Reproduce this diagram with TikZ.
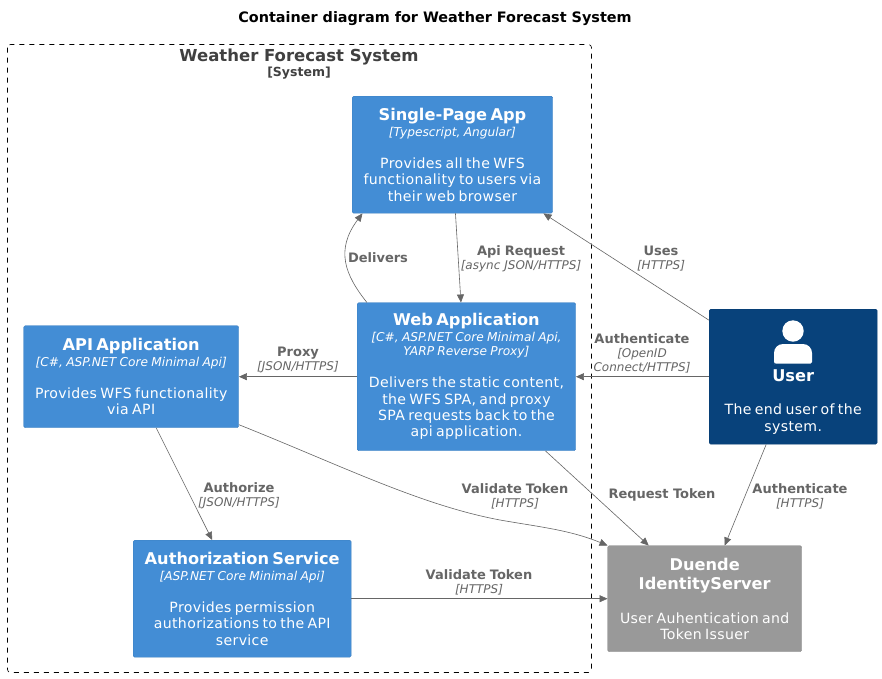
\documentclass[tikz,border=0pt]{standalone}
\usepackage{fontspec}
\setmainfont{DejaVu Sans}
\usetikzlibrary{arrows.meta,positioning}
\definecolor{contblue}{HTML}{438DD5}
\definecolor{persblue}{HTML}{08427B}
\definecolor{extgray}{HTML}{999999}
\definecolor{reltext}{HTML}{666666}
\tikzset{
  boxnode/.style={draw=#1!90!black,line width=0.4pt,fill=#1,rounded corners=1.5pt,text=white,align=center,inner sep=0pt,anchor=north west},
  rel/.style={-{Triangle[length=8pt,width=7pt]},draw=reltext,line width=0.6pt},
  rellabel/.style={text=reltext,align=center,inner sep=0pt,text width=150pt,font=\fontsize{12}{14}\selectfont},
}
\newcommand{\bodyfont}{\fontsize{14.1}{16.3}\selectfont\addfontfeatures{LetterSpace=2.5}}
\newcommand{\headfont}{\bfseries\fontsize{16.2}{19}\selectfont}
\newcommand{\boxtxt}[3]{{\headfont #1\par}\vspace{2pt}{\itshape\fontsize{12.2}{14}\selectfont #2\par}\vspace{15.7pt}{\bodyfont #3\par}}
\newcommand{\reltxt}[2]{{\bfseries\fontsize{13}{14}\selectfont #1\par}{\itshape #2\par}}
\begin{document}
\begin{tikzpicture}[x=1pt,y=-1pt,line join=round]
  \useasboundingbox (0,0) rectangle (882,678);
  \fill[white] (0,0) rectangle (882,678);

  \node[font=\bfseries\fontsize{14.4}{17}\selectfont,inner sep=0pt] (title) at (435,19) {Container diagram for Weather Forecast System};

  \draw[dash pattern=on 5pt off 5pt,rounded corners=3pt,line width=0.6pt] (7.5,44.5) rectangle (591.5,672.5);
  \node[font=\bfseries\fontsize{16.5}{19}\selectfont,text=black!75,inner sep=0pt] (sysname) at (299,57) {Weather Forecast System};
  \node[font=\bfseries\fontsize{12.5}{15}\selectfont,text=black!75,inner sep=0pt] (systype) at (299,73) {[System]};

  % containers
  \node[boxnode=contblue,text width=200.5pt,minimum height=117pt] (spa) at (352,96) {\boxtxt{Single-Page App}{[Typescript, Angular]}{Provides all the WFS\\functionality to users via\\their web browser}};
  \node[boxnode=contblue,text width=218.5pt,minimum height=148pt] (web) at (357,302.5) {\boxtxt{Web Application}{[C\#, ASP.NET Core Minimal Api,\\YARP Reverse Proxy]}{Delivers the static content,\\the WFS SPA, and proxy\\SPA requests back to the\\api application.}};
  \node[boxnode=contblue,text width=215pt,minimum height=102pt] (api) at (23.5,325.5) {\boxtxt{API Application}{[C\#, ASP.NET Core Minimal Api]}{Provides WFS functionality\\via API}};
  \node[boxnode=contblue,text width=218pt,minimum height=117pt] (auth) at (133,540) {\boxtxt{Authorization Service}{[ASP.NET Core Minimal Api]}{Provides permission\\authorizations to the API\\service}};
  \node[boxnode=persblue,text width=168pt,minimum height=135pt] (user) at (709,309) {\rule{0pt}{43pt}\par{\headfont User\par}\vspace{17pt}{\bodyfont The end user of the\\system.\par}};
  \fill[white] (793,331) circle (10.7pt);
  \fill[white] (774,363) [rounded corners=1.5pt] -- (774,356) [rounded corners=9pt] -- (774,344) -- (812,344) [rounded corners=1.5pt] -- (812,363.5) -- (774,363.5) -- cycle;
  \node[boxnode=extgray,text width=194pt,minimum height=106pt] (ids) at (607.5,545.5) {{\headfont Duende\\IdentityServer\par}\vspace{17.7pt}{\bodyfont User Auhentication and\\Token Issuer\par}};

  % relations
  \draw[rel] ([yshift=56.5pt]user.west) -- ([xshift=91pt]spa.south);
  \draw[rel] ([xshift=3pt]spa.south) -- ([xshift=-5.5pt]web.north);
  \draw[rel] ([xshift=-99.5pt]web.north) .. controls (345,275) and (335,250) .. ([xshift=-90pt]spa.south);
  \draw[rel] (user.west) -- (web.east);
  \draw[rel] (web.west) -- (api.east);
  \draw[rel] ([xshift=25pt]api.south) -- ([xshift=-30pt]auth.north);
  \draw[rel] ([yshift=-48pt]api.east) .. controls (340,465) and (420,505) .. (500,520) .. controls (540,527) and (570,530) .. (ids.north west);
  \draw[rel] ([xshift=79pt]web.south) -- ([xshift=-56pt]ids.north);
  \draw[rel] ([xshift=-27pt]user.south) -- ([xshift=20pt]ids.north);
  \draw[rel] (auth.east) -- (ids.west);

  % labels
  \node[rellabel] (l1) at (661,259) {\reltxt{Uses}{[HTTPS]}};
  \node[rellabel] (l2) at (521,259) {\reltxt{Api Request}{[async JSON/HTTPS]}};
  \node[rellabel,font=\bfseries\fontsize{13}{14}\selectfont] (l3) at (378,258) {Delivers};
  \node[rellabel] (l4) at (642,353) {\reltxt{Authenticate}{[OpenID\\Connect/HTTPS]}};
  \node[rellabel] (l5) at (298,360) {\reltxt{Proxy}{[JSON/HTTPS]}};
  \node[rellabel] (l6) at (239,496) {\reltxt{Authorize}{[JSON/HTTPS]}};
  \node[rellabel] (l7) at (515,496) {\reltxt{Validate Token}{[HTTPS]}};
  \node[rellabel,font=\bfseries\fontsize{13}{14}\selectfont] (l8) at (662,495) {Request Token};
  \node[rellabel] (l9) at (800,496) {\reltxt{Authenticate}{[HTTPS]}};
  \node[rellabel] (l10) at (479,582) {\reltxt{Validate Token}{[HTTPS]}};
\end{tikzpicture}
\end{document}
